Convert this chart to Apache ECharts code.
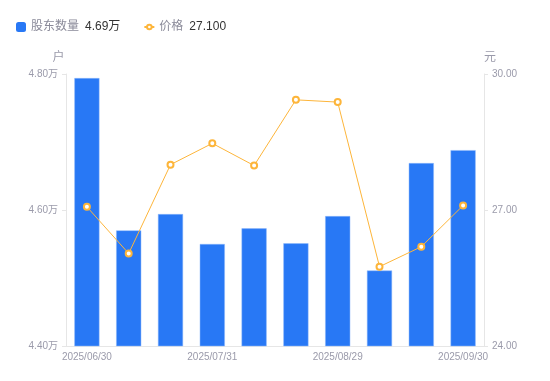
<!DOCTYPE html>
<html><head><meta charset="utf-8">
<script src="https://cdn.jsdelivr.net/npm/echarts@6/dist/echarts.min.js"></script>
<style>html,body{margin:0;padding:0;background:#fff}#c{width:550px;height:381px}</style>
</head><body><div id="c"></div>
<script>
const categories = ['2025/06/30','2025/07/10','2025/07/20','2025/07/31','2025/08/10','2025/08/20','2025/08/29','2025/09/10','2025/09/19','2025/09/30'];
const holders = [47940, 45700, 45940, 45500, 45730, 45510, 45910, 45110, 46690, 46880];
const prices = [27.07, 26.04, 28.00, 28.47, 27.98, 29.43, 29.38, 25.75, 26.19, 27.10];
const leftTicks = {min: 44000, max: 48000, interval: 2000};
const rightTicks = {min: 24, max: 30, interval: 3};

const FONT = 'Liberation Sans, Noto Sans CJK SC, sans-serif';
const lineIcon = 'path://M0 4.1H2.2V5.9H0Z M7.8 4.1H10V5.9H7.8Z M5 1.7A3.3 3.3 0 1 1 5 8.3A3.3 3.3 0 1 1 5 1.7Z M5 3.7A1.3 1.3 0 1 0 5 6.3A1.3 1.3 0 1 0 5 3.7Z';
const chart = echarts.init(document.getElementById('c'));
const fmtWan = v => (v / 10000).toFixed(2) + '万';
chart.setOption({
  animation: false,
  textStyle: {fontFamily: FONT},
  legend: {
    left: 11, top: 16, itemGap: 24,
    data: [
      {name: '股东数量', icon: 'roundRect', itemStyle: {color: '#2878F5', borderWidth: 0}},
      {name: '价格', icon: lineIcon, itemStyle: {color: '#FDB53A', borderWidth: 0}}
    ],
    itemWidth: 10, itemHeight: 10,
    formatter: function (name) {
      if (name === '股东数量') return '{n|' + name + '}{v|' + fmtWan(holders[holders.length - 1]) + '}';
      return '{n|' + name + '}{v|' + prices[prices.length - 1].toFixed(3) + '}';
    },
    textStyle: {
      fontFamily: FONT,
      rich: {
        n: {fontSize: 12, color: '#8a8a99', fontFamily: FONT, padding: [0, 6, 0, 0]},
        v: {fontSize: 12, color: '#333', fontFamily: FONT}
      }
    }
  },
  grid: {left: 66, right: 66, top: 74, bottom: 35},
  xAxis: {
    type: 'category', data: categories,
    axisLine: {lineStyle: {color: '#e6e6e6'}},
    axisTick: {show: false},
    axisLabel: {color: '#9a9aaa', fontSize: 10, interval: 2, margin: 6, fontFamily: FONT}
  },
  yAxis: [
    {
      type: 'value', min: leftTicks.min, max: leftTicks.max, interval: leftTicks.interval,
      name: '户', nameGap: 10,
      nameTextStyle: {color: '#9a9aaa', fontSize: 12, padding: [0, 15, 0, 0], fontFamily: FONT},
      axisLine: {show: true, lineStyle: {color: '#e6e6e6'}},
      axisTick: {show: true, length: 4, lineStyle: {color: '#e6e6e6'}},
      splitLine: {show: false},
      axisLabel: {color: '#9a9aaa', fontSize: 10, margin: 8, formatter: fmtWan, fontFamily: FONT}
    },
    {
      type: 'value', min: rightTicks.min, max: rightTicks.max, interval: rightTicks.interval,
      name: '元', nameGap: 10,
      nameTextStyle: {color: '#9a9aaa', fontSize: 12, padding: [0, 0, 0, 12], fontFamily: FONT},
      axisLine: {show: true, lineStyle: {color: '#e6e6e6'}},
      axisTick: {show: true, length: 4, lineStyle: {color: '#e6e6e6'}},
      splitLine: {show: false},
      axisLabel: {color: '#9a9aaa', fontSize: 10, margin: 8, formatter: v => v.toFixed(2), fontFamily: FONT}
    }
  ],
  series: [
    {
      name: '股东数量', type: 'bar', data: holders, barWidth: '60%',
      itemStyle: {color: '#2878F5', borderColor: '#8fb8fa', borderWidth: 0.5}
    },
    {
      name: '价格', type: 'line', yAxisIndex: 1, data: prices,
      symbol: 'emptyCircle', symbolSize: 6,
      lineStyle: {color: '#FDB53A', width: 1},
      itemStyle: {color: '#FDB53A', borderWidth: 2}
    }
  ]
});
</script></body></html>
